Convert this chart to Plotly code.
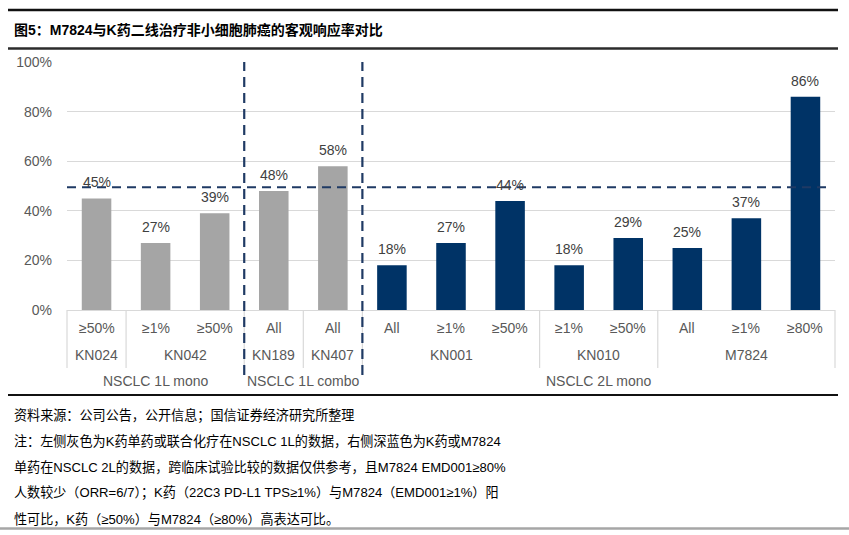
import plotly.graph_objects as go

# ---------------- data ----------------
subgroups = ["≥50%", "≥1%", "≥50%", "All", "All", "All", "≥1%", "≥50%",
             "≥1%", "≥50%", "All", "≥1%", "≥80%"]
trials = ["KN024", "KN042", "KN042", "KN189", "KN407", "KN001", "KN001", "KN001",
          "KN010", "KN010", "M7824", "M7824", "M7824"]
settings = ["NSCLC 1L mono"] * 3 + ["NSCLC 1L combo"] * 2 + ["NSCLC 2L mono"] * 8
orr = [45, 27, 39, 48, 58, 18, 27, 44, 18, 29, 25, 37, 86]
ref_value = 49.5
y_ticks = [0, 20, 40, 60, 80, 100]

title_text = "图5：M7824与K药二线治疗非小细胞肺癌的客观响应率对比"
footnote_lines = [
    "资料来源：公司公告，公开信息；国信证券经济研究所整理",
    "注：左侧灰色为K药单药或联合化疗在NSCLC 1L的数据，右侧深蓝色为K药或M7824",
    "单药在NSCLC 2L的数据，跨临床试验比较的数据仅供参考，且M7824 EMD001≥80%",
    "人数较少（ORR=6/7）；K药（22C3 PD-L1 TPS≥1%）与M7824（EMD001≥1%）阳",
    "性可比，K药（≥50%）与M7824（≥80%）高表达可比。",
]

# ---------------- styling ----------------
W, H = 849, 535
ML, MR, MT, MB = 67, 14, 62, 225
PW, PH = W - ML - MR, H - MT - MB
GRAY = "#A5A5A5"
NAVY = "#003366"
DASH = "#1F3A64"
TXT = "#595959"
FONT = "Liberation Sans, Arial, Noto Sans CJK SC, sans-serif"
CJK = "Liberation Sans, Noto Sans CJK SC, sans-serif"

def px(xpix):
    return (xpix - ML) / PW

def py(ypix):
    return (H - MB - ypix) / PH

n = len(orr)
xs = list(range(n))
colors = [GRAY if "1L" in s else NAVY for s in settings]

fig = go.Figure()
fig.add_trace(go.Bar(
    x=xs, y=orr, width=0.5, marker=dict(color=colors, line=dict(width=0)),
    hoverinfo="skip", showlegend=False,
))

annotations = []
shapes = []

# value labels
for i, v in enumerate(orr):
    annotations.append(dict(x=i, y=v, xref="x", yref="y", text=f"{v}%",
                            showarrow=False, yanchor="bottom", yshift=6,
                            font=dict(family=FONT, size=14, color="#404040")))

def runs(labels):
    out = []
    start = 0
    for i in range(1, len(labels) + 1):
        if i == len(labels) or labels[i] != labels[start]:
            out.append((labels[start], start, i - 1))
            start = i
    return out

def xpaper(pos):
    return (pos + 0.5) / n

# row 1: subgroup labels
for i, s in enumerate(subgroups):
    annotations.append(dict(x=i, y=py(328), xref="x", yref="paper", text=s,
                            showarrow=False, yanchor="middle",
                            font=dict(family=FONT, size=14, color=TXT)))
# row 2: trial labels + separators
trial_runs = runs(trials)
for lab, a, b in trial_runs:
    annotations.append(dict(x=(a + b) / 2, y=py(355), xref="x", yref="paper", text=lab,
                            showarrow=False, yanchor="middle",
                            font=dict(family=FONT, size=14, color=TXT)))
bounds = sorted(set([-0.5] + [b + 0.5 for _, _, b in trial_runs]))
for bx in bounds:
    shapes.append(dict(type="line", xref="paper", yref="paper",
                       x0=xpaper(bx), x1=xpaper(bx), y0=0, y1=py(368),
                       line=dict(color="#D9D9D9", width=1.2), layer="below"))
# row 3: setting labels
set_runs = runs(settings)
for lab, a, b in set_runs:
    annotations.append(dict(x=(a + b) / 2, y=py(381), xref="x", yref="paper", text=lab,
                            showarrow=False, yanchor="middle",
                            font=dict(family=FONT, size=14, color=TXT)))
# vertical dashed lines at setting boundaries
for lab, a, b in set_runs[:-1]:
    bx = xpaper(b + 0.5)
    shapes.append(dict(type="line", xref="paper", yref="paper",
                       x0=bx, x1=bx, y0=py(375), y1=1,
                       line=dict(color=DASH, width=2.2, dash="10px,6px"), layer="above"))
# horizontal dashed reference line
shapes.append(dict(type="line", xref="paper", yref="y",
                   x0=0, x1=px(827), y0=ref_value, y1=ref_value,
                   line=dict(color=DASH, width=2, dash="9px,6px"), layer="above"))

# frame lines
shapes.append(dict(type="line", xref="paper", yref="paper", x0=px(8), x1=px(838),
                   y0=py(10), y1=py(10), line=dict(color="#111111", width=2.5)))
shapes.append(dict(type="line", xref="paper", yref="paper", x0=px(8), x1=px(838),
                   y0=py(48.5), y1=py(48.5), line=dict(color="#2b2b2b", width=2.5)))
shapes.append(dict(type="line", xref="paper", yref="paper", x0=px(8), x1=px(838),
                   y0=py(395), y1=py(395), line=dict(color="#111111", width=2)))
shapes.append(dict(type="line", xref="paper", yref="paper", x0=px(0), x1=px(849),
                   y0=py(528.5), y1=py(528.5), line=dict(color="#A6A6A6", width=2.5)))

# title
annotations.append(dict(x=px(12), y=py(30), xref="paper", yref="paper", text=f"<b>{title_text}</b>",
                        showarrow=False, xanchor="left", yanchor="middle",
                        font=dict(family=CJK, size=14, color="#000000")))
# footnotes
for k, line in enumerate(footnote_lines):
    annotations.append(dict(x=px(12), y=py(415 + 26 * k), xref="paper", yref="paper", text=line,
                            showarrow=False, xanchor="left", yanchor="middle",
                            font=dict(family=CJK, size=13.1, color="#000000")))

fig.update_layout(
    width=W, height=H, autosize=False,
    margin=dict(l=ML, r=MR, t=MT, b=MB, pad=0),
    paper_bgcolor="white", plot_bgcolor="white",
    bargap=0.5,
    xaxis=dict(range=[-0.5, n - 0.5], showticklabels=False, showgrid=False, zeroline=False,
               showline=False, fixedrange=True),
    yaxis=dict(range=[0, 100], tickvals=y_ticks, ticktext=[f"{t}%" for t in y_ticks],
               showgrid=True, gridcolor="#D9D9D9", gridwidth=1.2, zeroline=True,
               zerolinecolor="#D9D9D9", zerolinewidth=1.2, showline=False,
               ticklabelstandoff=14, tickfont=dict(family=FONT, size=14, color=TXT),
               fixedrange=True),
    annotations=annotations,
    shapes=shapes,
    font=dict(family=FONT),
)

fig.write_html("out.html", config={"displayModeBar": False},
               post_script="document.body.style.margin='0';")
